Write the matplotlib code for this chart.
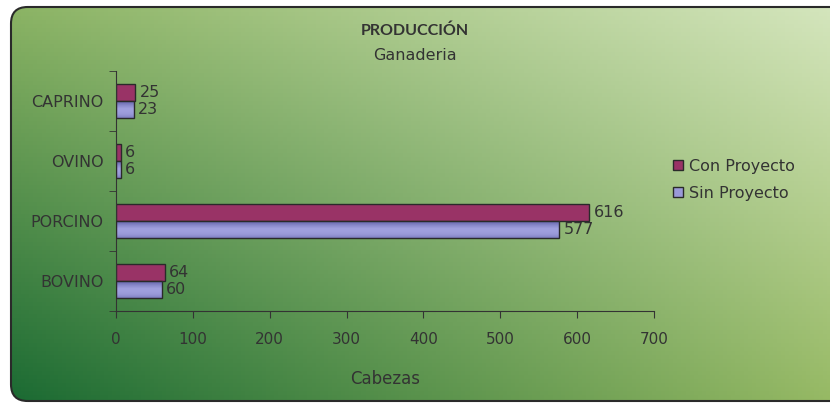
import matplotlib
matplotlib.use("Agg")
import matplotlib.pyplot as plt
import numpy as np
from matplotlib.patches import FancyBboxPatch, Patch

categories = ["BOVINO", "PORCINO", "OVINO", "CAPRINO"]
con_proyecto = [64, 616, 6, 25]
sin_proyecto = [60, 577, 6, 23]
x_ticks = [0, 100, 200, 300, 400, 500, 600, 700]

TEXT = "#333333"
CON_COLOR = "#993366"
SIN_COLOR = "#9a9ad8"
plt.rcParams["font.family"] = ["DejaVu Sans"]

fig = plt.figure(figsize=(8.3, 4.03), dpi=100)

# background gradient inside a rounded frame (right side runs off the image)
bg = fig.add_axes([0, 0, 1, 1], zorder=0)
bg.set_axis_off()
bg.set_xlim(0, 1)
bg.set_ylim(0, 1)
tl = np.array([140, 180, 100]) / 255
tr = np.array([213, 230, 190]) / 255
bl = np.array([25, 105, 50]) / 255
br = np.array([150, 185, 100]) / 255
u = np.linspace(0, 1, 200)[None, :, None]
v = np.linspace(0, 1, 100)[:, None, None]
grad = (1 - v) * ((1 - u) * bl + u * br) + v * ((1 - u) * tl + u * tr)
frame = FancyBboxPatch((11 / 830, 2 / 403), 860 / 830, 394 / 403,
                       boxstyle="round,pad=0,rounding_size=0.02",
                       transform=bg.transAxes, facecolor="none",
                       edgecolor="#2a2a2a", linewidth=1.5, mutation_aspect=830 / 403)
im = bg.imshow(grad, extent=(0, 1, 0, 1), origin="lower", aspect="auto")
bg.add_patch(frame)
im.set_clip_path(frame)

ax = fig.add_axes([116 / 830, 1 - 311 / 403, 538 / 830, 240 / 403], zorder=1)
ax.patch.set_alpha(0)

y = np.arange(len(categories))
h = 0.29
b1 = ax.barh(y + h / 2, con_proyecto, height=h, color=CON_COLOR,
             edgecolor="#2a2a2a", linewidth=1.0, zorder=2)
b2 = ax.barh(y - h / 2, sin_proyecto, height=h, color=SIN_COLOR,
             edgecolor="#2a2a2a", linewidth=1.0, zorder=2)

# cylinder-like shading on the lavender bars
t = np.linspace(0, 1, 40)
light = np.array([160, 160, 222]) / 255
dark = np.array([88, 88, 160]) / 255
shade = np.where(t < 0.5, 0.55 * (1 - t / 0.5) ** 2, (t - 0.5) / 0.5) ** 1.3
shade_img = (light + (dark - light) * shade[:, None])[:, None, :]
for rect in b2:
    x0, y0 = rect.get_x(), rect.get_y()
    gi = ax.imshow(shade_img, extent=(x0, x0 + rect.get_width(), y0, y0 + rect.get_height()),
                   origin="lower", aspect="auto", zorder=2.5)
    gi.set_clip_path(rect)
    rect.set_facecolor("none")
    rect.set_zorder(3)

for bars in (b1, b2):
    for rect in bars:
        w = rect.get_width()
        ax.annotate(f"{w:g}", (w, rect.get_y() + rect.get_height() / 2),
                    xytext=(3, 0), textcoords="offset points",
                    va="center", ha="left", fontsize=11.5, color=TEXT)

ax.set_xlim(0, 700)
ax.set_ylim(-0.5, len(categories) - 0.5)
ax.set_xticks(x_ticks)
ax.set_yticks(y)
ax.set_yticklabels(categories)
ax.set_yticks(np.arange(-0.5, len(categories)), minor=True)
ax.tick_params(axis="y", which="major", length=0, pad=9, labelsize=11.5, labelcolor=TEXT)
ax.tick_params(axis="y", which="minor", length=5, color=TEXT, direction="out")
ax.tick_params(axis="x", length=5, color=TEXT, pad=10, labelsize=11, labelcolor=TEXT)
for s in ("top", "right"):
    ax.spines[s].set_visible(False)
for s in ("left", "bottom"):
    ax.spines[s].set_color(TEXT)
ax.set_xlabel("Cabezas", fontsize=12, color=TEXT, labelpad=17)

fig.text(0.5, 1 - 31 / 403, "PRODUCCIÓN", ha="center", va="center",
         fontsize=11.5, fontweight="bold", color=TEXT, family=["Lato", "DejaVu Sans"])
fig.text(0.5, 1 - 55 / 403, "Ganaderia", ha="center", va="center",
         fontsize=11.5, color=TEXT)

handles = [Patch(facecolor=CON_COLOR, edgecolor="#2a2a2a", label="Con Proyecto"),
           Patch(facecolor=SIN_COLOR, edgecolor="#2a2a2a", label="Sin Proyecto")]
fig.legend(handles=handles, loc="upper left",
           bbox_to_anchor=(665 / 830, 1 - 151 / 403), frameon=False,
           handlelength=0.6, handleheight=0.6, handletextpad=0.4,
           labelspacing=0.75, fontsize=11.5, labelcolor=TEXT, borderpad=0)

fig.savefig("out.png", dpi=100)
